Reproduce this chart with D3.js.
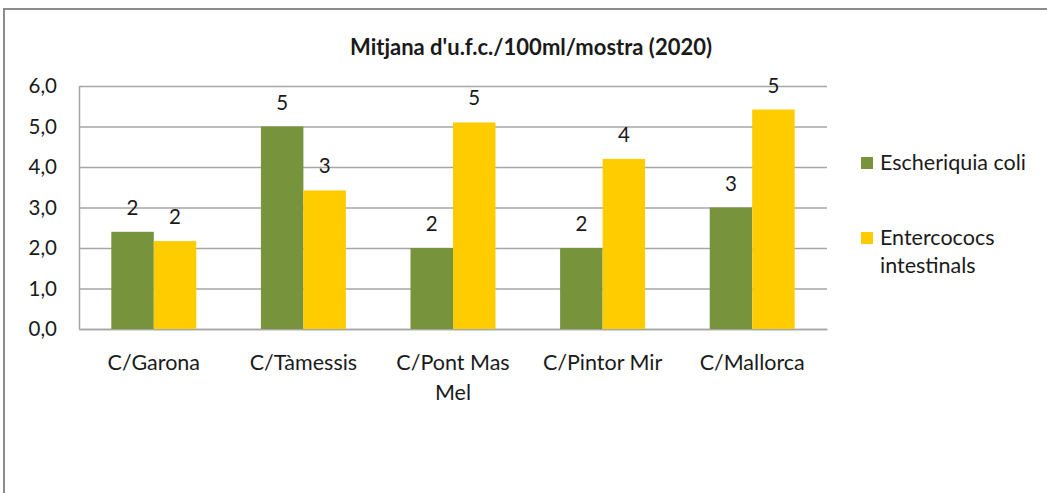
<!DOCTYPE html>
<html>
<head>
<meta charset="utf-8">
<script src="https://cdn.jsdelivr.net/npm/d3@7"></script>
<style>
  body { margin: 0; background: #fff; }
  text { font-family: Lato, "Open Sans", sans-serif; fill: #1a1a1a; }
</style>
</head>
<body>
<div id="chart"></div>
<script>
var svgWidth = 1047;
var svgHeight = 493;

// data
var categories = ["C/Garona", "C/Tàmessis", "C/Pont Mas Mel", "C/Pintor Mir", "C/Mallorca"];
var seriesNames = ["Escheriquia coli", "Entercococs intestinals"];
var ecoli = [2.4, 5.0, 2.0, 2.0, 3.0];
var enterococs = [2.17, 3.42, 5.1, 4.2, 5.42];
var yTicks = [0, 1, 2, 3, 4, 5, 6];
var colors = ["#77933C", "#FFCC00"];

var margin = { top: 86, left: 79, right: 220, bottom: 164 };
var width = svgWidth - margin.left - margin.right;
var height = svgHeight - margin.top - margin.bottom;

var svg = d3.select("#chart")
  .append("svg")
  .attr("width", svgWidth)
  .attr("height", svgHeight);

// outer chart border (only top and left visible)
svg.append("path")
  .attr("d", "M4,493 L4,9 L1047,9")
  .attr("fill", "none")
  .attr("stroke", "#8c8c8c")
  .attr("stroke-width", 2);

svg.append("text")
  .attr("x", 531)
  .attr("y", 55)
  .attr("text-anchor", "middle")
  .attr("font-size", "22px")
  .attr("font-weight", "bold")
  .text("Mitjana d'u.f.c./100ml/mostra (2020)");

var chartGroup = svg.append("g")
  .attr("transform", `translate(${margin.left}, ${margin.top})`);

var x0 = d3.scaleBand()
  .domain(categories)
  .range([0, width])
  .paddingInner(0.432)
  .paddingOuter(0.216);

var x1 = d3.scaleBand()
  .domain(seriesNames)
  .range([0, x0.bandwidth()]);

var y = d3.scaleLinear()
  .domain([0, 6])
  .range([height, 0]);

var fmt = d => d3.format(".1f")(d).replace(".", ",");

var leftAxis = d3.axisLeft(y)
  .tickValues(yTicks)
  .tickFormat(fmt)
  .tickSize(-width)
  .tickSizeOuter(0)
  .tickPadding(22);

var yAxis = chartGroup.append("g").call(leftAxis);
yAxis.selectAll(".tick line").attr("stroke", "#a6a6a6").attr("stroke-width", 1.5);
yAxis.select(".domain").attr("stroke", "#a6a6a6").attr("stroke-width", 1.5);
yAxis.selectAll(".tick text")
  .attr("font-size", "20.5px")
  .attr("font-family", "Lato, sans-serif")
  .attr("fill", "#1a1a1a");

var bottomAxis = d3.axisBottom(x0).tickSize(0).tickPadding(26);
var xAxis = chartGroup.append("g")
  .attr("transform", `translate(0, ${height})`)
  .call(bottomAxis);
xAxis.select(".domain").attr("stroke", "#a6a6a6").attr("stroke-width", 1.5);
xAxis.selectAll(".tick text")
  .attr("font-size", "21.5px")
  .attr("font-family", "Lato, sans-serif")
  .attr("fill", "#1a1a1a")
  .call(wrap, 135);

function wrap(texts, w) {
  texts.each(function() {
    var t = d3.select(this);
    var words = t.text().split(" ");
    var yy = t.attr("y");
    var dy = parseFloat(t.attr("dy"));
    t.text(null);
    var line = [];
    var lineNo = 0;
    var tspan = t.append("tspan").attr("x", 0).attr("y", yy).attr("dy", dy + "em");
    words.forEach(function(word) {
      line.push(word);
      tspan.text(line.join(" "));
      if (tspan.node().getComputedTextLength() > w && line.length > 1) {
        line.pop();
        tspan.text(line.join(" "));
        line = [word];
        lineNo++;
        tspan = t.append("tspan").attr("x", 0).attr("y", yy)
          .attr("dy", (lineNo * 1.4 + dy) + "em").text(word);
      }
    });
  });
}

var rows = categories.map(function(c, i) {
  return { cat: c, values: [ecoli[i], enterococs[i]] };
});

var groups = chartGroup.selectAll(".grp")
  .data(rows)
  .enter()
  .append("g")
  .attr("transform", d => `translate(${x0(d.cat)}, 0)`);

groups.selectAll("rect")
  .data(d => d.values.map((v, j) => ({ name: seriesNames[j], value: v, j: j })))
  .enter()
  .append("rect")
  .attr("x", d => x1(d.name))
  .attr("y", d => y(d.value))
  .attr("width", x1.bandwidth())
  .attr("height", d => height - y(d.value))
  .attr("fill", d => colors[d.j]);

groups.selectAll(".lbl")
  .data(d => d.values.map((v, j) => ({ name: seriesNames[j], value: v })))
  .enter()
  .append("text")
  .attr("x", d => x1(d.name) + x1.bandwidth() / 2)
  .attr("y", d => y(d.value) - 17)
  .attr("text-anchor", "middle")
  .attr("font-size", "20.5px")
  .text(d => d3.format(".0f")(d.value));

// legend
var legend = svg.append("g").attr("transform", "translate(861, 0)");
var legendY = [163, 238];

seriesNames.forEach(function(name, i) {
  legend.append("rect")
    .attr("x", 0)
    .attr("y", legendY[i] - 6)
    .attr("width", 12)
    .attr("height", 12)
    .attr("fill", colors[i]);
  var words = i === 0 ? [name] : ["Entercococs", "intestinals"];
  words.forEach(function(w, k) {
    legend.append("text")
      .attr("x", 19)
      .attr("y", legendY[i] + 7 + k * 28)
      .attr("font-size", "21.5px")
      .text(w);
  });
});
</script>
</body>
</html>
